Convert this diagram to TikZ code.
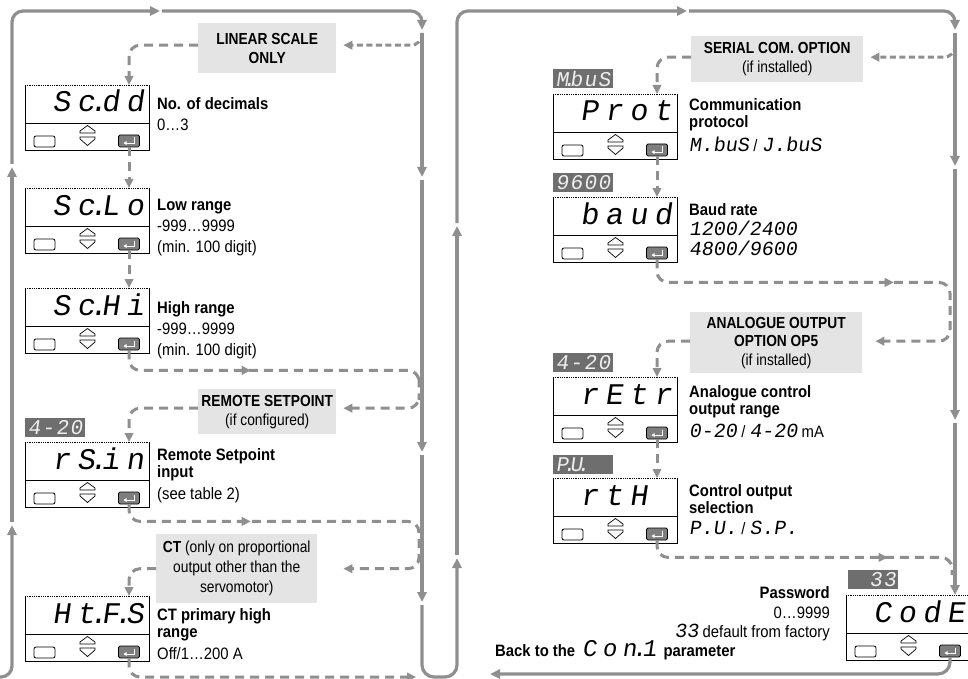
\documentclass[tikz,border=0pt]{standalone}
\usepackage{fontspec}
\setmainfont{Liberation Sans}[FakeStretch=0.9]
\newfontfamily\boxfont{Liberation Sans}[FakeStretch=0.86]
\newfontfamily\segfont{Liberation Mono}[FakeSlant=0.15]
\usetikzlibrary{arrows.meta,decorations.markings,calc}
\definecolor{ln}{HTML}{8F8F8F}
\definecolor{gbx}{HTML}{E4E4E4}
\definecolor{bdg}{HTML}{6E6E6E}
\definecolor{bdgt}{HTML}{EEEEEE}
\definecolor{ebt}{HTML}{7E7E7E}
\newlength\sgw
\newcommand\segsz[1]{\segfont\fontsize{#1}{#1}\selectfont}
\newcommand\sgc[1]{\makebox[\sgw][c]{#1}}
\newcommand\sgd{\makebox[0pt][c]{.}}
\newcommand\dspf{\segsz{30}\setlength\sgw{24.5pt}}
\newcommand\segb{\segsz{21}\setlength\sgw{14pt}}
\newcommand\segv{\segsz{20}}
\newcommand\dispunit[4]{%
\begin{scope}[shift={(#2,#3)}]
\node[dbox] (#1) at (0,0) {};
\draw[dline] (0,0) -- (0,65) -- (124,65) -- (124,0);
\draw[dline, densely dotted] (0,0) -- (124,0);
\draw[dline] (0,38) -- (124,38);
\node[dtext] (#1-t) at (24,27) {#4};
\node[lbtn] (#1-b) at (19.5,56.5) {};
\draw[dline, line width=0.7pt] (55,48) -- (55,46) -- (62.5,40.5) -- (70,46) -- (70,48) -- cycle;
\draw[dline, line width=0.7pt] (55,52) -- (70,52) -- (70,54) -- (62.5,60.5) -- (55,54) -- cycle;
\node[ebtn] (#1-e) at (104,56) {};
\draw[white, line width=0.9pt, -{Triangle[length=3pt,width=3.6pt]}] (109,52.5) -- (109,58) -- (98.5,58);
\end{scope}}
\begin{document}
\begin{tikzpicture}[x=1pt,y=-1pt,
 dline/.style={black, line width=0.8pt},
 dbox/.style={anchor=north west, minimum width=124pt, minimum height=65pt, inner sep=0pt},
 dtext/.style={anchor=base west, inner sep=0pt, font=\dspf},
 lbtn/.style={draw=black, fill=white, line width=0.8pt, rounded corners=2pt, minimum width=21pt, minimum height=11pt, inner sep=0pt},
 ebtn/.style={draw=black, fill=ebt, line width=0.8pt, rounded corners=1.5pt, minimum width=21pt, minimum height=12pt, inner sep=0pt},
 badge/.style={fill=bdg, text=bdgt, anchor=north west, inner sep=0pt, minimum width=60pt, minimum height=19pt, font=\segb},
 gbox/.style={fill=gbx, anchor=north west, inner sep=0pt, align=center, font=\boxfont\fontsize{16}{19}\selectfont},
 desc/.style={anchor=north west, inner sep=0pt, align=left, font=\fontsize{16.5}{17}\selectfont},
 flow/.style={color=ln, line width=3.2pt, rounded corners=11pt, -{Triangle[length=10pt,width=9pt]}},
 dsh/.style={color=ln, line width=3pt, dash pattern=on 9pt off 6pt, rounded corners=11pt, -{Triangle[length=9pt,width=8.5pt]}},
 dshs/.style={dsh, dash pattern=on 6pt off 3.5pt},
 midarr/.style={postaction={decorate}, decoration={markings, mark=at position #1 with {\arrow{Triangle[length=9pt,width=8.5pt]}}}},
]
\useasboundingbox (0,0) rectangle (968,679);
\fill[white] (0,0) rectangle (968,679);

% ---------- displays ----------
\dispunit{scdd}{25}{85}{\sgc{S}\sgc{c}\sgd\sgc{d}\sgc{d}}
\dispunit{sclo}{25}{188}{\sgc{S}\sgc{c}\sgd\sgc{L}\sgc{o}}
\dispunit{schi}{25}{288}{\sgc{S}\sgc{c}\sgd\sgc{H}\sgc{i}}
\dispunit{rsin}{25}{442}{\sgc{r}\sgc{S}\sgd\sgc{i}\sgc{n}}
\dispunit{htfs}{25}{596}{\sgc{H}\sgc{t}\sgd\sgc{F}\sgd\sgc{S}}
\dispunit{prot}{553}{94}{\sgc{P}\sgc{r}\sgc{o}\sgc{t}}
\dispunit{baud}{553}{197}{\sgc{b}\sgc{a}\sgc{u}\sgc{d}}
\dispunit{retr}{553}{377}{\sgc{r}\sgc{E}\sgc{t}\sgc{r}}
\dispunit{rth}{553}{478}{\sgc{r}\sgc{t}\sgc{H}\sgc{}}
\dispunit{code}{846}{595}{\sgc{C}\sgc{o}\sgc{d}\sgc{E}}

% ---------- badges ----------
\node[badge] (rsin-v) at (25,418) {\sgc{4}\sgc{-}\sgc{2}\sgc{0}};
\node[badge] (prot-v) at (553,69) {\sgc{M}\sgd\sgc{b}\sgc{u}\sgc{S}};
\node[badge] (baud-v) at (553,173) {\sgc{9}\sgc{6}\sgc{0}\sgc{0}};
\node[badge] (retr-v) at (553,353) {\sgc{4}\sgc{-}\sgc{2}\sgc{0}};
\node[badge] (rth-v) at (553,455) {\sgc{P}\sgd\sgc{U}\sgd\sgc{}\sgc{}};
\node[badge, minimum width=50pt, text width=47pt, align=right] (code-v) at (848,570) {\sgc{3}\sgc{3}};

% ---------- grey option boxes ----------
\node[gbox, minimum width=138pt, minimum height=50pt] (linear) at (198,23) {\textbf{LINEAR SCALE}\\\textbf{ONLY}};
\node[gbox, minimum width=138pt, minimum height=45pt] (remote) at (198,389) {\textbf{REMOTE SETPOINT}\\(if configured)};
\node[gbox, minimum width=161pt, minimum height=69pt, font=\boxfont\fontsize{16}{20}\selectfont] (ct) at (156,534) {\textbf{CT} (only on proportional\\output other than the\\servomotor)};
\node[gbox, minimum width=172pt, minimum height=46pt] (serial) at (691,36) {\textbf{SERIAL COM. OPTION}\\(if installed)};
\node[gbox, minimum width=172pt, minimum height=61pt, font=\boxfont\fontsize{16}{18.5}\selectfont] (analog) at (690,312) {\textbf{ANALOGUE OUTPUT}\\\textbf{OPTION OP5}\\(if installed)};

% ---------- descriptions ----------
\node[desc] (scdd-d) at (157,97.5) {\textbf{No. of decimals}\\[4pt]0…3};
\node[desc] (sclo-d) at (157,198.5) {\textbf{Low range}\\[4pt]-999…9999\\[4pt](min. 100 digit)};
\node[desc] (schi-d) at (157,301.5) {\textbf{High range}\\[4pt]-999…9999\\[4pt](min. 100 digit)};
\node[desc] (rsin-d) at (157,448.5) {\textbf{Remote Setpoint}\\\textbf{input}\\[5pt](see table 2)};
\node[desc] (htfs-d) at (157,608.5) {\textbf{CT primary high}\\\textbf{range}\\[5pt]Off/1…200 A};
\node[desc] (prot-d) at (689,98.5) {\textbf{Communication}\\\textbf{protocol}\\[5pt]{\segv M.buS} / {\segv J.buS}};
\node[desc] (baud-d) at (689,203.5) {\textbf{Baud rate}\\[3pt]{\segv 1200/2400}\\[3pt]{\segv 4800/9600}};
\node[desc] (retr-d) at (689,385.5) {\textbf{Analogue control}\\\textbf{output range}\\[6pt]{\segv 0-20} / {\segv 4-20} mA};
\node[desc] (rth-d) at (689,484.5) {\textbf{Control output}\\\textbf{selection}\\[4pt]{\segv P.U.} / {\segv S.P.}};
\node[desc, anchor=north east, align=right] (pw-d) at (830,586.5) {\textbf{Password}\\[3pt]0…9999\\[2pt]{\segv 33} default from factory};
\node[desc, anchor=base west] (back-d) at (495,656) {\textbf{Back to the} {\segsz{24}\setlength\sgw{20pt}\sgc{C}\sgc{o}\sgc{n}\sgd\sgc{1}} \textbf{parameter}};

% ---------- main solid flow ----------
\coordinate (s0) at (-6,677);
\draw[flow] (s0) -- (12,677) -- (12,525);
\draw[flow] (12,522) -- (12,167);
\draw[flow] (12,164) -- (12,11) -- (160,11);
\draw[flow] (162,11) -- (422,11) -- (422,30);
\draw[flow] (422,33) -- (422,177);
\draw[flow] (422,180) -- (422,452);
\draw[flow] (422,455) -- (422,602);
\draw[flow, rounded corners=12pt] (422,605) -- (422,677) -- (457,677) -- (457,558);
\draw[flow] (457,555) -- (457,226);
\draw[flow] (457,223) -- (457,11) -- (687,11);
\draw[flow] (689,11) -- (955,11) -- (955,30);
\draw[flow] (955,33) -- (955,166);
\draw[flow] (955,169) -- (955,420);
\draw[flow] (955,423) -- (955,0 |- code.north);
\coordinate (back) at (490,674);
\draw[flow, rounded corners=12pt] (code-e.south) |- (back);

% ---------- dashed connectors, left ----------
\coordinate (j0) at (422,33);
\draw[dshs, shorten >=7pt] (j0) |- ([yshift=3pt]linear.east);
\draw[dsh] ([yshift=3pt]linear.west) -| (scdd-e |- scdd.north);
\draw[dsh] (scdd-e.south) -- (sclo-e |- sclo.north);
\draw[dsh] (sclo-e.south) -- (schi-e |- schi.north);
\coordinate (j1) at (419,389);
\draw[dsh, midarr=137pt, shorten >=7pt] (schi-e.south) -- ++(0,20) -| (j1) |- ([yshift=3.5pt]remote.east);
\draw[dsh] ([yshift=3.5pt]remote.west) -| (rsin-e |- rsin.north);
\coordinate (j2) at (419,545);
\draw[dsh, midarr=134pt, shorten >=26pt] (rsin-e.south) -- ++(0,17) -| (j2) |- (ct.east);
\draw[dsh] (ct.west) -| (htfs-e |- htfs.north);
\coordinate (j3) at (416,677);
\draw[dsh] (htfs-e.south) |- (j3);

% ---------- dashed connectors, right ----------
\coordinate (j6) at (955,45);
\draw[dshs, shorten >=7pt] (j6) |- ([yshift=2pt]serial.east);
\draw[dsh] ([yshift=2pt]serial.west) -| (prot-e |- prot.north);
\draw[dsh] (prot-e.south) -- (baud-e |- baud.north);
\coordinate (j4) at (950,310);
\draw[dsh, midarr=255pt, shorten >=13pt] (baud-e.south) -- ++(0,23) -| (j4) |- ([yshift=1.5pt]analog.east);
\draw[dsh] ([yshift=1.5pt]analog.west) -| (retr-e |- retr.north);
\draw[dsh] (retr-e.south) -- (rth-e |- rth.north);
\coordinate (j5) at (952,575);
\draw[dsh, midarr=243pt, -] (rth-e.south) -- ++(0,17) -| (j5);
\end{tikzpicture}
\end{document}
